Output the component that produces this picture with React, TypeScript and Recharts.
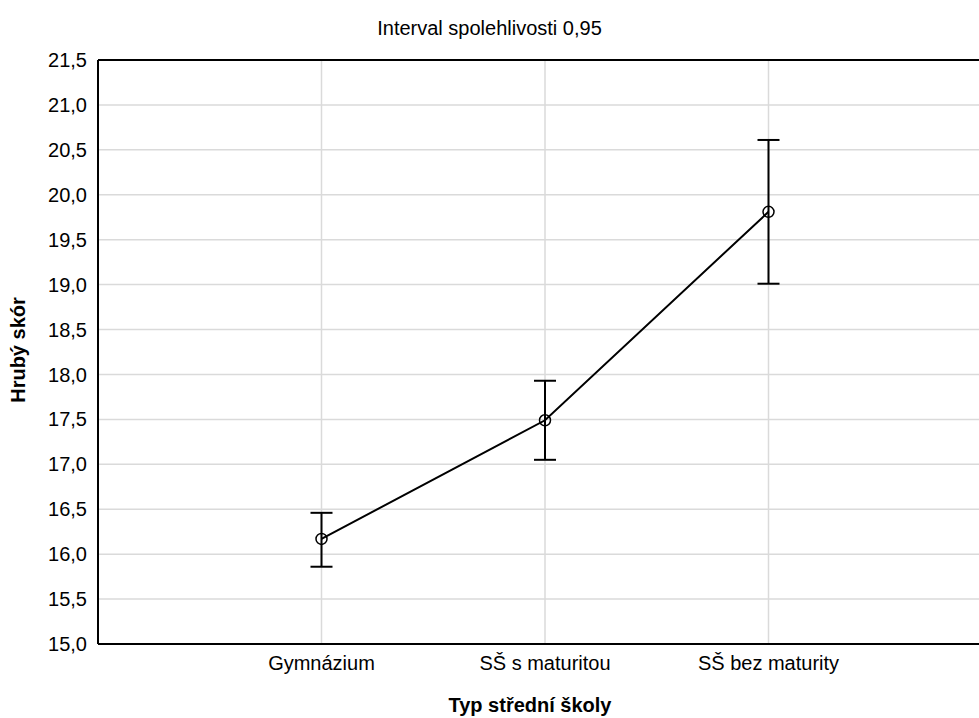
import { CartesianGrid, ComposedChart, ErrorBar, Line, ReferenceLine, XAxis, YAxis } from 'recharts'

const categories = ['Gymnázium', 'SŠ s maturitou', 'SŠ bez maturity']
const means = [16.17, 17.49, 19.81]
const lower = [15.86, 17.05, 19.01]
const upper = [16.46, 17.93, 20.61]
const yTicks = [15, 15.5, 16, 16.5, 17, 17.5, 18, 18.5, 19, 19.5, 20, 20.5, 21, 21.5]

const font = '"Liberation Sans", Arial, sans-serif'

const data = categories.map((name, i) => ({
  pos: i + 1,
  name,
  mean: means[i],
  err: [means[i] - lower[i], upper[i] - means[i]],
}))

const fmt = (v: number) => v.toFixed(1).replace('.', ',')

export default function App() {
  return (
    <div style={{ position: 'absolute', left: 0, top: 0, width: 979, height: 718, overflow: 'hidden', background: '#fff', fontFamily: font }}>
      <div style={{ position: 'absolute', left: 0, top: 18, width: 979, textAlign: 'center', fontSize: 20, lineHeight: '20px', color: '#000' }}>
        Interval spolehlivosti 0,95
      </div>
      <div style={{ position: 'absolute', left: -82, top: 340, width: 200, height: 20, lineHeight: '20px', textAlign: 'center', fontSize: 20, fontWeight: 700, transform: 'rotate(-90deg)', color: '#000' }}>
        Hrubý skór
      </div>
      <div style={{ position: 'absolute', left: 430, top: 695, width: 200, textAlign: 'center', fontSize: 20, lineHeight: '20px', fontWeight: 700, color: '#000' }}>
        Typ střední školy
      </div>
      <ComposedChart width={992} height={718} data={data} margin={{ top: 60, right: 0, bottom: 0, left: 0 }}>
        <CartesianGrid stroke="#dadada" strokeWidth={1.5} />
        <XAxis
          type="number"
          dataKey="pos"
          domain={[0, 4]}
          ticks={[1, 2, 3]}
          tickFormatter={(v: number) => categories[v - 1] ?? ''}
          height={74}
          tickSize={0}
          tickMargin={12}
          axisLine={{ stroke: '#000', strokeWidth: 2 }}
          tick={{ fill: '#000', fontSize: 20, fontFamily: font }}
        />
        <YAxis
          type="number"
          domain={[15, 21.5]}
          ticks={yTicks}
          allowDataOverflow
          width={98}
          tickSize={0}
          tickMargin={11}
          tickFormatter={fmt}
          axisLine={{ stroke: '#000', strokeWidth: 2 }}
          tick={{ fill: '#000', fontSize: 20, fontFamily: font }}
        />
        <ReferenceLine y={21.5} stroke="#000" strokeWidth={2} />
        <Line
          type="linear"
          dataKey="mean"
          stroke="#000"
          strokeWidth={2}
          dot={{ r: 5.5, fill: 'none', stroke: '#000', strokeWidth: 1.5 }}
          activeDot={false}
          isAnimationActive={false}
        >
          <ErrorBar dataKey="err" direction="y" width={11} stroke="#000" strokeWidth={2} isAnimationActive={false} />
        </Line>
      </ComposedChart>
    </div>
  )
}
